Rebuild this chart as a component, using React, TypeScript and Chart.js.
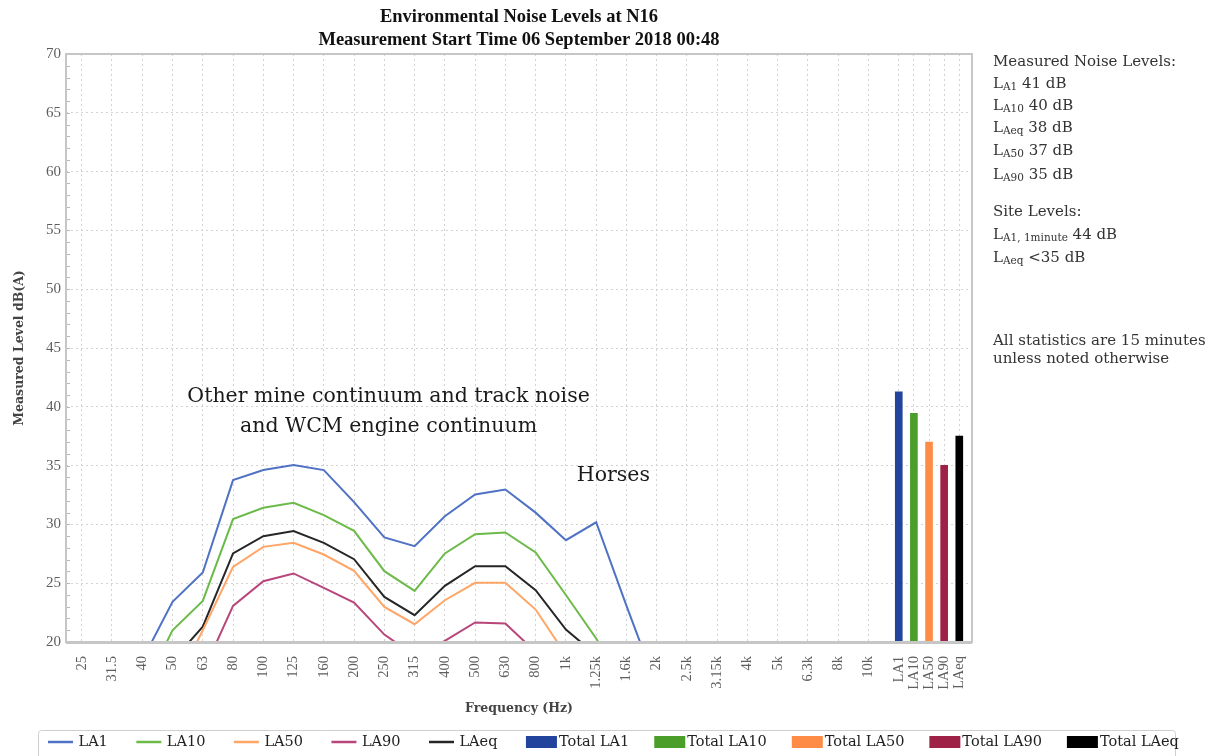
import React, { useEffect, useRef } from 'react';
import { Chart, registerables } from 'chart.js';

Chart.register(...registerables);

// ---------- data ----------
const freqLabels = ['25', '31.5', '40', '50', '63', '80', '100', '125', '160', '200', '250', '315', '400', '500', '630', '800', '1k', '1.25k', '1.6k', '2k', '2.5k', '3.15k', '4k', '5k', '6.3k', '8k', '10k'];
const statLabels = ['LA1', 'LA10', 'LA50', 'LA90', 'LAeq'];

const la1 = [null, null, 18.45, 23.41, 25.91, 33.77, 34.62, 35.05, 34.62, 31.9, 28.89, 28.15, 30.7, 32.55, 32.97, 31.0, 28.66, 30.18, 23.1, 16.2, null, null, null, null, null, null, null];
const la10 = [null, null, 15.8, 21.0, 23.49, 30.45, 31.41, 31.83, 30.79, 29.45, 26.02, 24.34, 27.53, 29.17, 29.31, 27.61, 24.0, 20.3, 16.0, null, null, null, null, null, null, null, null];
const la50 = [null, null, null, 15.8, 21.0, 26.39, 28.09, 28.43, 27.44, 26.05, 22.98, 21.51, 23.55, 25.03, 25.03, 22.76, 18.9, null, null, null, null, null, null, null, null, null, null];
const la90 = [null, null, null, null, 17.4, 23.07, 25.17, 25.83, 24.6, 23.36, 20.63, 18.86, 20.1, 21.66, 21.57, 19.15, null, null, null, null, null, null, null, null, null, null, null];
const laeq = [null, null, null, 18.4, 21.3, 27.53, 29.0, 29.43, 28.43, 27.04, 23.83, 22.28, 24.77, 26.45, 26.45, 24.4, 21.06, 18.9, null, null, null, null, null, null, null, null, null];

const totals = [41.28, 39.44, 37.0, 35.02, 37.51];

const yTicks = [20, 25, 30, 35, 40, 45, 50, 55, 60, 65, 70];

const titleLines = ['Environmental Noise Levels at N16', 'Measurement Start Time 06 September 2018 00:48'];

const measuredLevels = [
  { sub: 'A1', value: ' 41 dB' },
  { sub: 'A10', value: ' 40 dB' },
  { sub: 'Aeq', value: ' 38 dB' },
  { sub: 'A50', value: ' 37 dB' },
  { sub: 'A90', value: ' 35 dB' },
];
const siteLevels = [
  { sub: 'A1, 1minute', value: ' 44 dB' },
  { sub: 'Aeq', value: ' <35 dB' },
];
const noteLines = ['All statistics are 15 minutes', 'unless noted otherwise'];

const annotations = [
  { text: 'Other mine continuum and track noise', x: 10.14, y: 40.83 },
  { text: 'and WCM engine continuum', x: 10.14, y: 38.28 },
  { text: 'Horses', x: 17.57, y: 34.11 },
];

// ---------- styles ----------
const lineColors = ['#4f72c4', '#6cba4a', '#ffa566', '#b8467a', '#262626'];
const barColors = ['#22449c', '#4c9e2a', '#ff8c46', '#9e2248', '#000000'];
const SERIF = '"DejaVu Serif", serif';

const tickValues = [
  ...freqLabels.map((_, i) => i),
  ...statLabels.map((_, j) => freqLabels.length + j * 0.5),
];
const allLabels = [...freqLabels, ...statLabels];

const decorPlugin = {
  id: 'decor',
  afterDraw(chart: any) {
    const { ctx, chartArea: a, scales } = chart;
    const xS = scales.x;
    const yS = scales.y;
    ctx.save();

    // minor ticks on the y axis
    ctx.strokeStyle = '#b8b8b8';
    ctx.lineWidth = 1;
    for (let v = yS.min; v <= yS.max; v += 1) {
      const py = Math.round(yS.getPixelForValue(v)) + 0.5;
      ctx.beginPath();
      ctx.moveTo(a.left, py);
      ctx.lineTo(a.left + 4, py);
      ctx.stroke();
    }

    // plot frame
    ctx.strokeStyle = '#c6c6c6';
    ctx.lineWidth = 2;
    ctx.strokeRect(a.left, a.top, a.right - a.left, a.bottom - a.top);
    ctx.lineWidth = 3;
    ctx.beginPath();
    ctx.moveTo(a.left, a.bottom + 0.5);
    ctx.lineTo(a.right, a.bottom + 0.5);
    ctx.stroke();

    // title
    const cx = (a.left + a.right) / 2;
    ctx.fillStyle = '#111';
    ctx.textAlign = 'center';
    ctx.textBaseline = 'middle';
    ctx.font = 'bold 18.5px "Liberation Serif", serif';
    ctx.fillText(titleLines[0], cx, 17);
    ctx.fillText(titleLines[1], cx, 40);

    // annotations
    ctx.font = '20.5px ' + SERIF;
    ctx.fillStyle = '#1a1a1a';
    annotations.forEach((an) => {
      ctx.fillText(an.text, xS.getPixelForValue(an.x), yS.getPixelForValue(an.y));
    });

    // right-hand text block
    ctx.textAlign = 'left';
    ctx.fillStyle = '#333';
    const rx = 993;
    const mainFont = '15px ' + SERIF;
    const subFont = '10.5px ' + SERIF;
    const drawLevel = (sub: string, value: string, y: number) => {
      let x = rx;
      ctx.font = mainFont;
      ctx.fillText('L', x, y);
      x += ctx.measureText('L').width;
      ctx.font = subFont;
      ctx.fillText(sub, x, y + 3);
      x += ctx.measureText(sub).width;
      ctx.font = mainFont;
      ctx.fillText(value, x, y);
    };
    ctx.font = mainFont;
    ctx.fillText('Measured Noise Levels:', rx, 62);
    const mY = [84.5, 106.5, 128.5, 151.5, 175];
    measuredLevels.forEach((m, i) => drawLevel(m.sub, m.value, mY[i]));
    ctx.font = mainFont;
    ctx.fillText('Site Levels:', rx, 212);
    const sY = [235, 258.5];
    siteLevels.forEach((m, i) => drawLevel(m.sub, m.value, sY[i]));
    ctx.font = mainFont;
    noteLines.forEach((t, i) => ctx.fillText(t, rx, 341 + i * 18.5));

    // legend
    const lyTop = 730;
    ctx.strokeStyle = '#cfcfcf';
    ctx.lineWidth = 1;
    ctx.beginPath();
    (ctx as any).roundRect(38.5, lyTop + 0.5, 1137, 40, 3);
    ctx.stroke();
    const ly = 742;
    let lx = 48;
    ctx.font = '14.5px ' + SERIF;
    chart.data.datasets.forEach((ds: any) => {
      if (ds.type === 'bar') {
        ctx.fillStyle = ds.backgroundColor;
        ctx.fillRect(lx, ly - 6, 31, 12);
        lx += 33;
      } else {
        ctx.strokeStyle = ds.borderColor;
        ctx.lineWidth = 2.5;
        ctx.beginPath();
        ctx.moveTo(lx, ly);
        ctx.lineTo(lx + 25, ly);
        ctx.stroke();
        lx += 30.5;
      }
      ctx.fillStyle = '#222';
      ctx.fillText(ds.label, lx, ly);
      lx += ctx.measureText(ds.label).width + (ds.type === 'bar' ? 25 : 28.5);
    });

    ctx.restore();
  },
};

export default function App() {
  const ref = useRef<HTMLCanvasElement | null>(null);

  useEffect(() => {
    if (!ref.current) return;
    const lineSeries = [la1, la10, la50, la90, laeq];
    const datasets: any[] = [
      ...lineSeries.map((s, k) => ({
        type: 'line',
        label: statLabels[k],
        data: s.map((y, i) => ({ x: i, y })),
        borderColor: lineColors[k],
        backgroundColor: lineColors[k],
        borderWidth: 2,
        pointRadius: 0,
        fill: false,
        tension: 0,
        spanGaps: false,
      })),
      ...totals.map((v, j) => ({
        type: 'bar',
        label: 'Total ' + statLabels[j],
        data: [{ x: freqLabels.length + j * 0.5, y: v }],
        backgroundColor: barColors[j],
        borderWidth: 0,
        barThickness: 7,
        grouped: false,
      })),
    ];

    const chart = new Chart(ref.current, {
      type: 'line',
      data: { datasets },
      options: {
        animation: false,
        responsive: false,
        devicePixelRatio: 1,
        layout: { padding: { left: 0, top: 54, right: 243, bottom: 30 } },
        plugins: {
          legend: { display: false },
          title: { display: false },
          tooltip: { enabled: false },
        },
        scales: {
          x: {
            type: 'linear',
            min: -0.52,
            max: 29.42,
            offset: false,
            afterBuildTicks: (s: any) => {
              s.ticks = tickValues.map((v) => ({ value: v }));
            },
            afterFit: (s: any) => {
              s.height = 84;
            },
            ticks: {
              autoSkip: false,
              minRotation: 90,
              maxRotation: 90,
              padding: 14,
              color: '#5e5e5e',
              font: { family: '"Liberation Serif", serif', size: 14.5 },
              callback: (_v: any, i: number) => allLabels[i],
            },
            grid: { color: '#d2d2d2', lineWidth: 1, drawTicks: false, offset: false },
            border: { display: false, dash: [2, 3] },
            title: {
              display: true,
              text: 'Frequency (Hz)',
              color: '#444',
              font: { family: SERIF, size: 12.5, weight: 'bold' },
              padding: { top: 0, bottom: 10 },
            },
          },
          y: {
            type: 'linear',
            min: 20,
            max: 70,
            afterBuildTicks: (s: any) => {
              s.ticks = yTicks.map((v) => ({ value: v }));
            },
            afterFit: (s: any) => {
              s.width = 66;
            },
            ticks: {
              padding: 5,
              color: '#5e5e5e',
              font: { family: '"Liberation Serif", serif', size: 15 },
            },
            grid: { color: '#d2d2d2', lineWidth: 1, drawTicks: false },
            border: { display: false, dash: [2, 3] },
            title: {
              display: true,
              text: 'Measured Level dB(A)',
              color: '#444',
              font: { family: SERIF, size: 12.5, weight: 'bold' },
              padding: { top: 12, bottom: 0 },
            },
          },
        },
      } as any,
      plugins: [decorPlugin],
    });
    return () => chart.destroy();
  }, []);

  return (
    <div style={{ position: 'fixed', left: 0, top: 0, width: 1215, height: 756, background: '#fff' }}>
      <canvas ref={ref} width={1215} height={756} style={{ display: 'block' }} />
    </div>
  );
}
